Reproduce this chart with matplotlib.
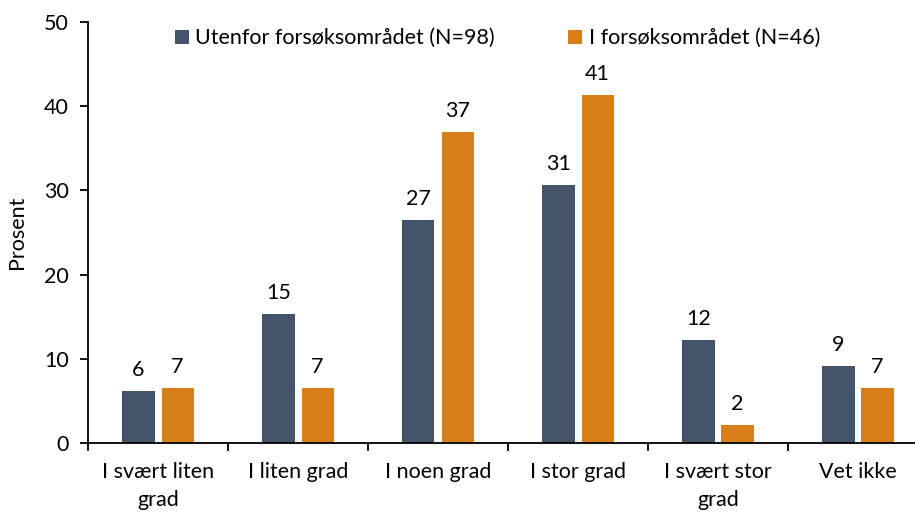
import matplotlib
matplotlib.use("Agg")
import matplotlib.pyplot as plt
import numpy as np

plt.rcParams['font.family'] = ['Lato', 'DejaVu Sans']

categories = ["I svært liten\ngrad", "I liten grad", "I noen grad", "I stor grad", "I svært stor\ngrad", "Vet ikke"]
series_names = ["Utenfor forsøksområdet (N=98)", "I forsøksområdet (N=46)"]
utenfor = [6.12, 15.31, 26.53, 30.61, 12.24, 9.18]
innenfor = [6.52, 6.52, 36.96, 41.30, 2.17, 6.52]
colors = ["#44546A", "#D97F1A"]

W, H = 915, 516
fig = plt.figure(figsize=(W/100, H/100), dpi=100)
left, right, bottom, top = 88, 928, 443, 22
ax = fig.add_axes([left/W, 1 - bottom/H, (right-left)/W, (bottom-top)/H])

FS = 15.5
x = np.arange(len(categories))
bw = 0.23
off = 0.14
for vals, col, name, d in [(utenfor, colors[0], series_names[0], -off), (innenfor, colors[1], series_names[1], off)]:
    ax.bar(x + d, vals, width=bw, color=col, label=name)
    for xi, v in zip(x + d, vals):
        ax.annotate(f"{int(np.floor(v + 0.5))}", (xi, v), xytext=(0, 8), textcoords="offset points",
                    ha="center", va="bottom", fontsize=FS, color="black")

ax.set_xlim(-0.5, 5.5)
ax.set_ylim(0, 50)
ax.set_yticks([0, 10, 20, 30, 40, 50])
ax.set_xticks(np.arange(-0.5, 6.0, 1.0), minor=False)
ax.set_xticklabels([])
ax.set_xticks(x, minor=True)
ax.set_xticklabels(categories, minor=True, fontsize=FS, linespacing=1.45)
ax.tick_params(axis='x', which='minor', length=0, pad=14)
ax.tick_params(axis='x', which='major', length=6, width=1.3, direction='out')
ax.tick_params(axis='y', length=6, width=1.3, direction='out', labelsize=FS, pad=8)
for s in ['top', 'right']:
    ax.spines[s].set_visible(False)
for s in ['left', 'bottom']:
    ax.spines[s].set_linewidth(1.3)
ax.set_ylabel("Prosent", fontsize=FS, labelpad=12)

ax.legend(loc="upper left", bbox_to_anchor=(0.1036, 0.985), ncol=2, frameon=False, fontsize=FS,
          borderaxespad=0, borderpad=0,
          handlelength=0.65, handleheight=0.65, handletextpad=0.3, columnspacing=3.4)

fig.savefig("out.png", dpi=100)
